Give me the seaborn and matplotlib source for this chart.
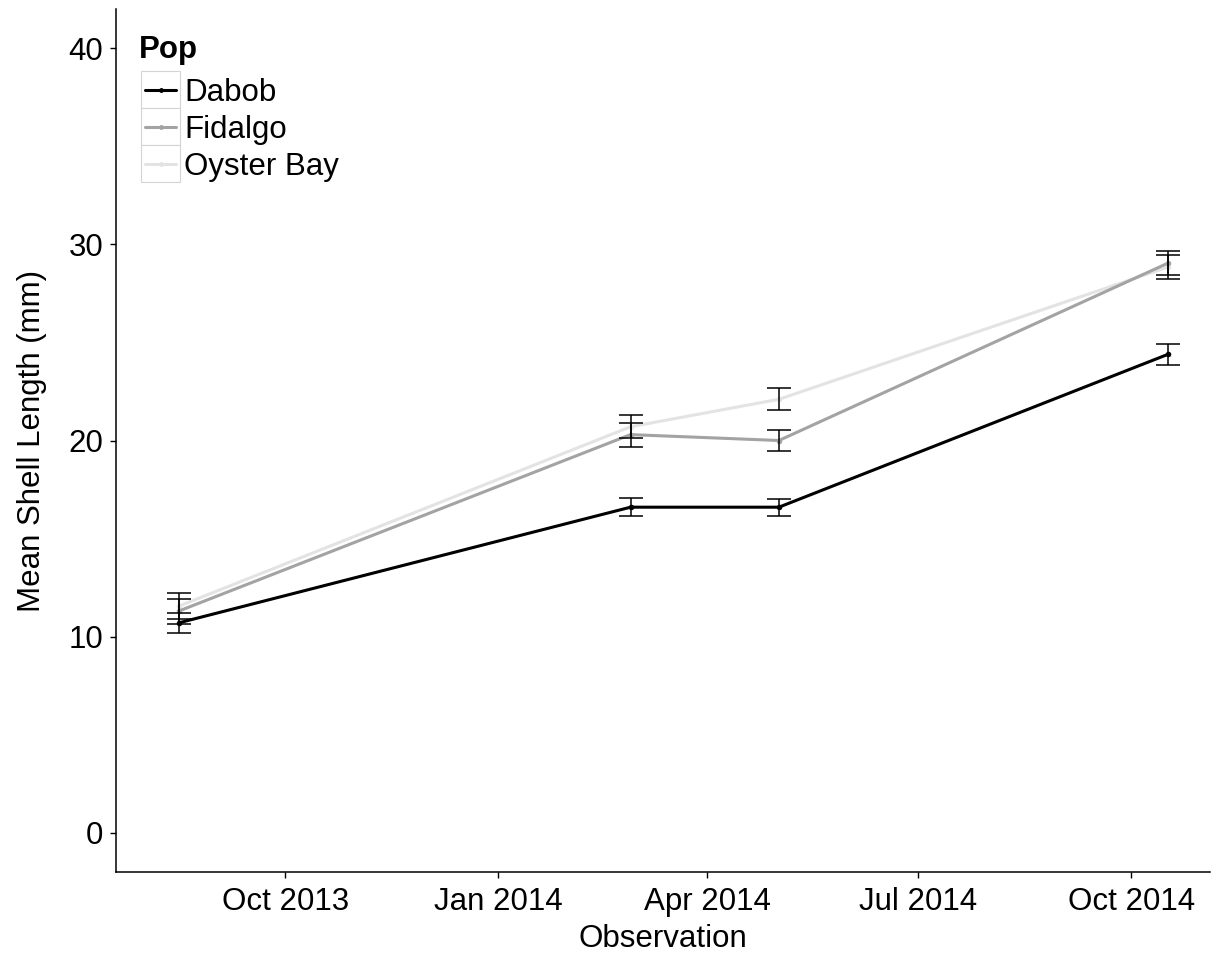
import numpy as np
import pandas as pd
import matplotlib
matplotlib.use("Agg")
import matplotlib.pyplot as plt
import matplotlib.dates as mdates
from matplotlib.patches import Rectangle
from matplotlib.lines import Line2D
import seaborn as sns

# Observation dates
dates = ["2013-08-16", "2014-02-27", "2014-05-02", "2014-10-17"]
pops = ["Dabob", "Fidalgo", "Oyster Bay"]

# Mean shell length (mm) and standard error per population
dabob_mean = [10.7, 16.6, 16.6, 24.4]
dabob_se = [0.53, 0.46, 0.44, 0.53]
fidalgo_mean = [11.3, 20.3, 20.0, 29.05]
fidalgo_se = [0.64, 0.61, 0.51, 0.59]
oyster_mean = [11.55, 20.7, 22.1, 28.85]
oyster_se = [0.66, 0.58, 0.56, 0.60]

colors = {"Dabob": "#000000", "Fidalgo": "#a3a3a3", "Oyster Bay": "#e3e3e3"}

df = pd.DataFrame({
    "Observation": pd.to_datetime(dates * 3),
    "Pop": np.repeat(pops, len(dates)),
    "mean": dabob_mean + fidalgo_mean + oyster_mean,
    "se": dabob_se + fidalgo_se + oyster_se,
})

sns.set_theme(style="white")
plt.rcParams["font.family"] = ["Liberation Sans", "DejaVu Sans"]
plt.rcParams["text.color"] = "black"

W, H = 1222, 957
FS = 22.5
AX_L, AX_R, AX_T, AX_B = 116, 1210, 9, 872

fig = plt.figure(figsize=(W / 100, H / 100), dpi=100)
ax = fig.add_axes([AX_L / W, (H - AX_B) / H, (AX_R - AX_L) / W, (AX_B - AX_T) / H])

# draw lighter series first so darker ones sit on top
order = ["Oyster Bay", "Fidalgo", "Dabob"]
for pop in order:
    sub = df[df["Pop"] == pop]
    sns.lineplot(data=sub, x="Observation", y="mean", color=colors[pop], ax=ax,
                 linewidth=2.2, marker="o", markersize=4, markeredgewidth=0,
                 estimator=None, errorbar=None, legend=False, zorder=2)

for pop in order:
    sub = df[df["Pop"] == pop]
    ax.errorbar(sub["Observation"], sub["mean"], yerr=sub["se"], fmt="none",
                ecolor="black", elinewidth=1.1, capsize=8.5, capthick=1.1, zorder=3)

ax.set_ylim(-2, 42)
ax.set_xlim(pd.Timestamp("2013-07-20"), pd.Timestamp("2014-11-04"))
ax.set_yticks([0, 10, 20, 30, 40])
ax.xaxis.set_major_locator(mdates.MonthLocator(bymonth=[1, 4, 7, 10]))
ax.xaxis.set_major_formatter(mdates.DateFormatter("%b %Y"))

for side in ["top", "right"]:
    ax.spines[side].set_visible(False)
for side in ["left", "bottom"]:
    ax.spines[side].set_color("black")
    ax.spines[side].set_linewidth(1.1)

ax.tick_params(axis="both", which="major", length=4.3, width=1.0, color="black",
               labelsize=FS, labelcolor="black", direction="out",
               bottom=True, left=True)
ax.tick_params(axis="x", pad=23.0)
ax.tick_params(axis="y", pad=5)
for lab in ax.get_xticklabels():
    lab.set_verticalalignment("baseline")

ax.set_xlabel("Observation", fontsize=FS, color="black")
ax.xaxis.label.set_verticalalignment("baseline")
ax.xaxis.set_label_coords(0.5, -(947 - AX_B) / (AX_B - AX_T))
ax.set_ylabel("Mean Shell Length (mm)", fontsize=FS, color="black")
ax.yaxis.label.set_verticalalignment("center")
ax.yaxis.set_label_coords(-(AX_L - 32) / (AX_R - AX_L), 0.5)

# Legend: title, boxed keys and labels placed in figure pixels
def fx(px):
    return px / W


def fy(py):
    return 1 - py / H


fig.text(fx(139), fy(58), "Pop", fontsize=FS, fontweight="bold",
         ha="left", va="baseline", color="black")
key_top, key_h = 71, 37
for i, pop in enumerate(pops):
    top = key_top + i * key_h
    fig.add_artist(Rectangle((fx(141), fy(top + key_h)), fx(39), key_h / H,
                             transform=fig.transFigure, facecolor="white",
                             edgecolor="#d4d4d4", linewidth=0.8))
    cy = fy(top + key_h / 2)
    fig.add_artist(Line2D([fx(145), fx(176)], [cy, cy], transform=fig.transFigure,
                          color=colors[pop], linewidth=2.2))
    fig.add_artist(Line2D([fx(160.5)], [cy], transform=fig.transFigure,
                          color=colors[pop], marker="o", markersize=3.5,
                          markeredgewidth=0))
    fig.text(fx(184), cy, pop, fontsize=FS, ha="left", va="center_baseline",
             color="black")

fig.savefig("out.png", dpi=100)
